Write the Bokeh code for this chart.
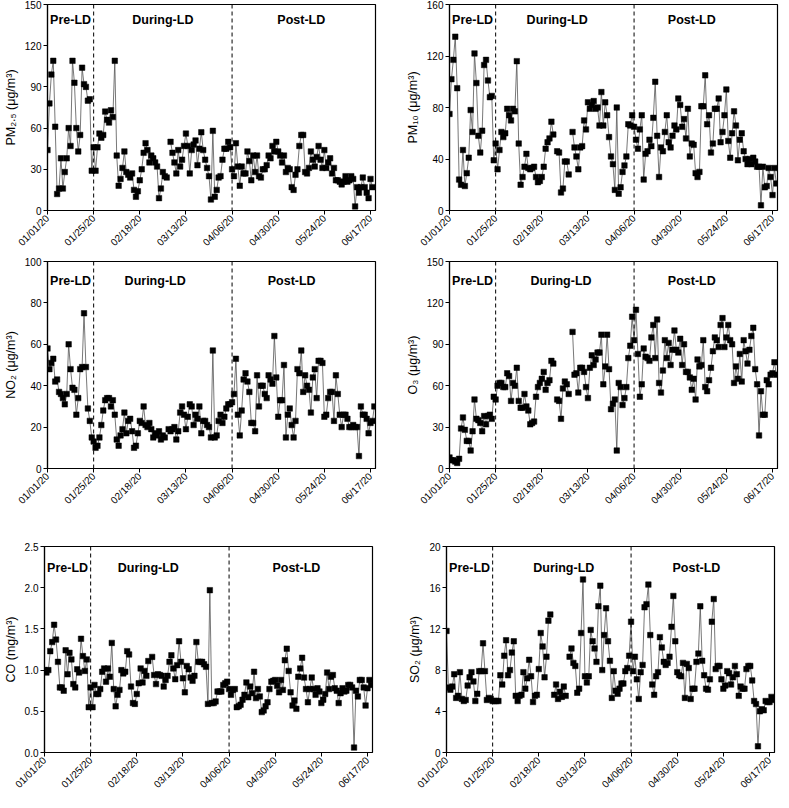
import numpy as np
from bokeh.plotting import figure
from bokeh.layouts import column, row
from bokeh.models import Range1d, FixedTicker, Span, Label
from bokeh.embed import file_html
from bokeh.resources import INLINE

N = None
# day index 0 = 01/01/20
x_ticks = [0, 24, 48, 72, 96, 120, 144, 168]
x_tick_labels = ["01/01/20", "01/25/20", "02/18/20", "03/13/20",
                 "04/06/20", "04/30/20", "05/24/20", "06/17/20"]
lockdown_days = [24, 96]
phase_labels = ["Pre-LD", "During-LD", "Post-LD"]

pm25 = [44, 78, 99, 109, 61, 12, 16, 38, 16, 28,
        38, 60, 47, 109, 93, 60, 43, 55, 104, 92,
        90, 80, 81, 29, 46, 29, 46, 56, 53, 55,
        72, 66, 64, 73, 68, 109, 40, 18, 23, 31,
        43, 28, 26, 24, 27, 15, 10, 14, 22, 30,
        42, 49, 44, 35, 40, 38, 35, 32, 9, 16,
        28, 25, 24, N, 50, 42, 35, 27, 44, 32,
        37, 47, 56, 47, 27, 44, 48, 51, 33, 45,
        57, 44, 37, 31, 25, 8, 58, 10, 15, 24,
        25, 37, 45, 45, 50, 46, 30, 25, 49, 32,
        18, 32, 27, 27, 43, 36, 22, 40, 28, 40,
        25, 24, 30, 30, 33, 40, 38, 47, 43, 50,
        43, 40, 35, 40, 28, 31, 30, 17, 15, 26,
        30, 47, 55, 55, 28, 27, 31, 43, 37, 32,
        39, 47, 37, 31, 44, 31, 35, 38, 27, 31,
        22, 22, 21, 19, 21, 25, 21, 22, 25, 23,
        3, 17, 13, 17, 24, 17, 13, 9, 23, 17]

pm10 = [75, 102, 117, 135, 95, 24, 20, 47, 19, 29,
        41, 78, 61, 122, 99, 58, 45, 62, 113, 117,
        101, 88, 89, 39, 52, 32, 47, 61, 57, 60,
        79, 74, 70, 79, 77, 116, 52, 20, 26, 34,
        44, 33, 32, 33, 34, 26, 22, 23, 26, 34,
        48, 53, 56, 69, 59, N, 46, 45, 14, 17,
        38, 38, 28, N, 61, 49, 42, 32, 49, 50,
        70, 63, 84, 79, 82, 85, 79, 80, 66, 92,
        66, 84, 74, 57, 42, 36, 16, 80, 13, 18,
        30, 35, 42, 67, 66, 74, 65, 55, 48, 63,
        74, 24, 44, 46, 55, 50, 72, 100, 58, 26,
        49, 46, 61, 74, 53, 49, 58, 66, 63, 87,
        82, 65, 71, 56, 79, 42, 52, 51, 29, 26,
        30, 81, 81, 105, 67, 74, 45, 52, 79, 79,
        87, 53, 61, 74, 94, 54, 41, 60, 77, 66,
        39, 55, 60, 46, 40, 36, 40, 36, 41, 38,
        34, 34, 4, 34, 18, 19, 33, 26, 12, 33, 21]

no2 = [58, 48, 51, 53, 42, 43, 37, 36, 34, 31,
       36, 60, 48, 39, 38, 26, 34, 48, 49, 75,
       49, 29, 23, 15, 13, 10, 11, 15, 21, 28,
       33, 34, 34, 30, 33, 26, 14, 11, 16, 19,
       27, 17, 23, 24, 18, 10, 11, 17, 23, 22,
       30, 21, 20, 22, 19, 15, 17, 16, 18, 14,
       16, 15, N, 19, 18, 19, 20, 14, 18, 27,
       30, 26, 19, 25, 31, 30, 21, 26, 24, 30,
       17, 23, 23, 21, 20, 15, 57, 15, 16, 23,
       26, 22, 25, 29, 31, 31, 32, 36, 53, 26,
       16, 28, 43, 46, 42, 37, 22, 22, 18, 45,
       30, 40, 40, 36, 34, 45, 43, 41, 64, 44,
       25, 33, 33, 50, 15, 26, 29, 21, 15, 23,
       48, 46, 57, 37, 45, 40, 38, 27, 44, 48,
       34, 52, 52, 51, 25, 26, 34, 37, 37, 23,
       45, 36, 26, 20, 26, 26, 24, 20, 20, 21,
       20, 20, 6, 30, 26, 26, 24, 17, 22, 23, 30]

o3 = [8, 6, 6, 5, 4, 7, 29, 37, 28, 20,
      20, 13, 27, 50, 36, 35, 33, 27, 38, 32,
      38, 39, 36, 52, 50, 60, 62, 62, 59, 59,
      69, 67, 49, 62, 60, 73, 49, 44, 44, 54,
      45, 42, 32, 33, 34, 52, 59, 62, 65, 70,
      57, 62, 64, 78, 76, N, 50, 49, 36, 58,
      63, 61, 54, N, 99, 68, 69, 55, 73, 73,
      70, 59, 51, 73, 82, 75, 79, 84, 84, 97,
      61, 74, 97, 72, 43, 47, 50, 13, 62, 59,
      46, 51, 59, 80, 89, 110, 93, 115, 83, 52,
      61, 87, 81, 80, 78, 95, 104, 80, 108, 62,
      55, 71, 93, 80, 91, 75, 86, 100, 86, 84,
      94, 75, 90, 70, 70, 66, 57, 65, 50, 79,
      74, 75, 93, 59, 56, 64, 73, 85, 95, 93,
      88, 104, 109, 88, 95, 104, 93, 90, 62, 74,
      65, 83, 63, 93, 85, 76, 86, 96, 102, 72,
      61, 24, 56, 39, 39, 64, 61, 68, 69, 77, 68]

co = [1.00, 0.97, 1.00, 1.23, 1.34, 1.55, 1.37, 1.10, 0.79, 0.79,
      0.75, 1.24, 0.95, 1.21, 1.13, 0.83, 0.79, 1.01, 0.97, 1.38,
      1.17, 0.99, 1.13, 0.55, 0.79, 0.55, 0.82, 0.71, 0.71, 0.77,
      0.98, 1.02, 0.86, 1.02, 0.92, 1.33, 0.77, 0.56, 0.70, 0.76,
      1.00, 0.96, 0.98, 1.23, 1.19, 0.80, 0.60, 0.59, 0.71, 0.84,
      1.02, 0.85, 0.99, 0.93, 1.11, N, 1.16, 0.94, 0.83, 0.95,
      0.94, 0.93, 0.80, 0.88, 0.93, 1.10, 1.18, 1.02, 0.89, 1.06,
      1.35, 1.10, 0.90, 0.73, 1.05, 1.01, 0.91, 0.87, 0.93, 1.34,
      1.10, 1.10, 1.10, 1.07, 1.04, 0.59, 1.97, 0.60, 0.60, 0.62,
      0.74, 0.74, 0.74, 0.82, 0.84, 0.86, 0.77, 0.70, 0.76, 0.77,
      0.55, 0.56, 0.58, 0.64, 0.70, 0.85, 0.67, 0.80, 0.72, 0.98,
      0.66, 0.77, 0.68, 0.49, 0.51, 0.56, 0.61, 0.77, 0.86, 0.87,
      0.88, 0.81, 0.73, 0.88, 0.76, 1.12, 1.26, 0.99, 0.73, 0.57,
      0.63, 0.53, 0.92, 1.02, 1.15, 0.91, 0.77, 0.61, 0.77, 0.91,
      0.77, 0.70, 0.78, 0.74, 0.60, 0.64, 0.71, 0.97, 0.77, 0.92,
      0.94, 0.78, 0.75, 0.60, 0.72, 0.78, 0.74, 0.75, 0.82, 0.82,
      0.79, 0.06, 0.75, 0.68, 0.88, 0.88, 0.79, 0.57, 0.78, 0.88, 0.82]

so2 = [11.8, 6.3, 6.1, 6.4, 7.6, 5.3, 5.5, 7.8, 5.2, 5.0,
       5.1, 6.5, 7.3, 7.8, 6.9, 5.0, 5.7, 7.9, 7.9, 10.6,
       7.9, 5.1, 5.3, 5.2, 5.0, 5.0, 5.0, 5.0, 7.5, 6.6,
       9.4, 10.9, 7.5, 8.0, 9.7, 10.8, 5.5, 5.0, 5.5, 5.6,
       7.8, 6.2, 7.2, 9.0, 7.4, 4.9, 5.5, 5.6, 8.1, 11.6,
       10.3, 7.3, 9.3, 12.8, 13.4, N, 5.6, 6.6, 5.2, 5.9,
       5.4, 6.4, 5.5, N, 9.3, 10.1, 8.7, 8.4, 5.8, 6.2,
       11.6, 16.8, 7.4, 6.8, 7.4, 11.9, 10.8, 10.1, 8.8, 14.2,
       16.2, 8.0, 11.4, 14.0, 10.8, 8.9, 5.3, 7.9, 6.0, 5.7,
       6.2, 6.7, 6.7, 7.9, 8.2, 9.4, 12.7, 7.9, 9.3, 7.1,
       5.2, 7.8, 8.5, 14.1, 14.4, 16.3, 11.4, 6.6, 5.6, 7.4,
       7.8, 11.2, 10.2, 8.8, 8.5, 8.7, 9.3, 12.2, 15.2, 10.8,
       7.8, 7.5, 7.4, 8.7, 5.3, 8.6, 8.2, 5.2, 6.2, 6.2,
       8.8, 9.6, 14.2, 8.9, 7.5, 6.2, 6.1, 7.1, 12.7, 14.9,
       8.1, 8.4, 8.4, 7.1, 6.2, 6.5, 7.9, 7.7, 6.6, 7.3,
       8.4, 7.6, 5.5, 6.4, 6.2, 6.2, 8.1, 8.4, 8.4, 7.0,
       5.0, 4.7, 0.6, 4.0, 4.2, 4.1, 5.0, 4.9, 4.9, 5.4, 5.1]

pm25_ticks = [0, 30, 60, 90, 120, 150]
pm10_ticks = [0, 40, 80, 120, 160]
no2_ticks = [0, 20, 40, 60, 80, 100]
o3_ticks = [0, 30, 60, 90, 120, 150]
co_ticks = [0, 0.5, 1.0, 1.5, 2.0, 2.5]
co_tick_labels = ["0.0", "0.5", "1.0", "1.5", "2.0", "2.5"]
so2_ticks = [0, 4, 8, 12, 16, 20]

FONT = "Liberation Sans"
X_END = 170.6
FW = 328
COL_BORDERS = [(40, 8), (66, 3)]
ROW_SPEC = [(4, 206, 46), (5, 207, 74), (4, 206, 38)]


def panel(vals, ticks, tick_labels, ylabel, phase_x, phase_frac, col, rw):
    bl, br = COL_BORDERS[col]
    bt, fh, bb = ROW_SPEC[rw]
    y_end = ticks[-1]
    p = figure(frame_width=FW, frame_height=fh, output_backend="svg",
               toolbar_location=None, x_range=Range1d(0, X_END),
               y_range=Range1d(0, y_end), min_border_left=bl,
               min_border_right=br, min_border_top=bt, min_border_bottom=bb,
               background_fill_color="white", border_fill_color="white")
    p.grid.visible = False
    p.outline_line_color = "black"
    p.outline_line_width = 1.2
    p.outline_line_alpha = 1

    x = np.arange(len(vals), dtype=float)
    y = np.array(vals, dtype=float)
    p.line(x, y, line_color="#555555", line_width=0.8)
    p.scatter(x, y, marker="square", size=5.5, fill_color="black",
              line_color="black", line_width=0.5)

    for d in lockdown_days:
        p.add_layout(Span(location=d, dimension="height", line_color="black",
                          line_width=1, line_dash="4 3"))
    for name, lx in zip(phase_labels, phase_x):
        p.add_layout(Label(x=lx, y=y_end * phase_frac, text=name,
                           text_font=FONT, text_font_size="12.5px",
                           text_font_style="bold", text_align="center",
                           text_baseline="middle", text_color="black"))

    xa = p.xaxis[0]
    xa.ticker = FixedTicker(ticks=x_ticks)
    xa.major_label_overrides = dict(zip(x_ticks, x_tick_labels))
    xa.major_label_orientation = np.pi / 4
    ya = p.yaxis[0]
    ya.ticker = FixedTicker(ticks=ticks)
    ya.major_label_overrides = dict(zip(ticks, tick_labels))
    ya.axis_label = ylabel
    for ax in (xa, ya):
        ax.axis_line_color = "black"
        ax.axis_line_width = 1.2
        ax.major_tick_line_color = "black"
        ax.major_tick_in = 0
        ax.major_tick_out = 4
        ax.minor_tick_line_color = None
        ax.major_label_text_font = FONT
        ax.major_label_text_font_size = "10px"
        ax.major_label_text_color = "black"
        ax.major_label_standoff = 2
        ax.axis_label_text_font = FONT
        ax.axis_label_text_font_size = "12.5px"
        ax.axis_label_text_font_style = "normal"
        ax.axis_label_text_color = "black"
        ax.axis_label_standoff = 4
    return p


p1 = panel(pm25, pm25_ticks, [str(t) for t in pm25_ticks], "PM₂.₅ (μg/m³)",
           [12, 60, 132], 0.925, 0, 0)
p2 = panel(pm10, pm10_ticks, [str(t) for t in pm10_ticks], "PM₁₀ (μg/m³)",
           [12, 56, 126], 0.925, 1, 0)
p3 = panel(no2, no2_ticks, [str(t) for t in no2_ticks], "NO₂ (μg/m³)",
           [12, 56, 127], 0.905, 0, 1)
p4 = panel(o3, o3_ticks, [str(t) for t in o3_ticks], "O₃ (μg/m³)",
           [12, 58, 126], 0.905, 1, 1)
p5 = panel(co, co_ticks, co_tick_labels, "CO (mg/m³)",
           [12, 54, 131], 0.895, 0, 2)
p6 = panel(so2, so2_ticks, [str(t) for t in so2_ticks], "SO₂ (μg/m³)",
           [12, 61, 130], 0.895, 1, 2)

layout = column(row(p1, p2), row(p3, p4), row(p5, p6))
open("out.html", "w").write(file_html(layout, INLINE))
